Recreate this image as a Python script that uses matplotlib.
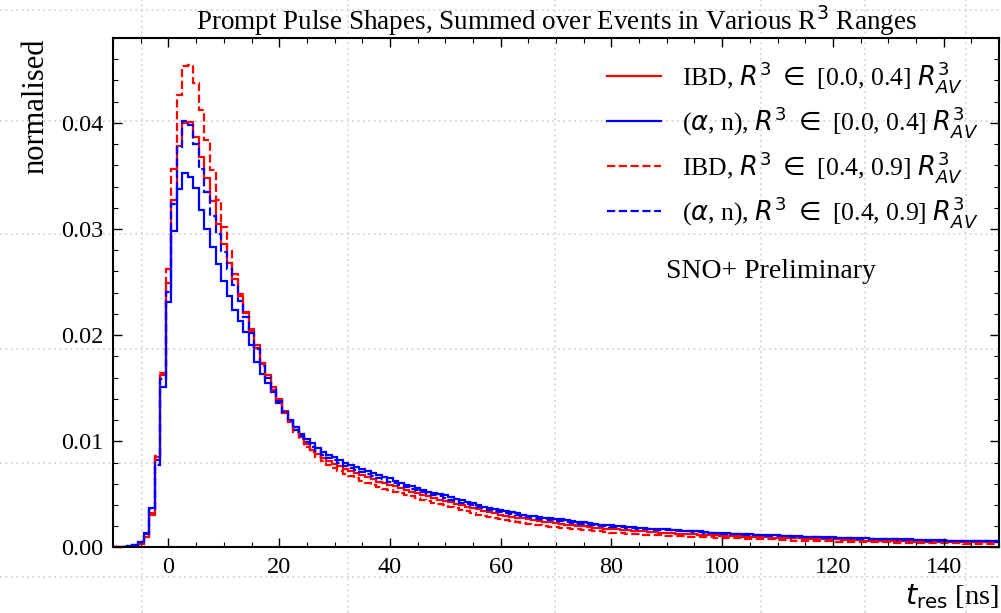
import numpy as np
import matplotlib.pyplot as plt
from matplotlib.lines import Line2D
from matplotlib.ticker import MultipleLocator, FormatStrFormatter

plt.rcParams['font.family'] = ['Liberation Serif', 'DejaVu Serif']
plt.rcParams['mathtext.fontset'] = 'dejavusans'

# bin centres in ns (1 ns bins), values in units of 1e-4 (normalised)
t_res = np.arange(-10, 151)

ibd_inner = [
    0.1, 0.2, 0.3, 0.5, 1.0, 3.0, 10, 32, 85, 162,
    249, 327, 378, 400, 401, 387, 368, 348, 326, 305,
    286, 268, 253, 237, 222, 206, 191, 174, 162, 151,
    140, 129, 119, 111, 104, 97, 92, 88, 84, 81,
    79, 76.5, 74, 72, 70, 68, 66, 64, 62, 60.5,
    59, 57.5, 56, 54, 52.5, 51, 49.5, 48, 46.5, 45,
    44, 42.5, 41, 39.5, 38, 37, 36, 34.5, 33, 32,
    31, 30, 29, 28, 27.5, 26.5, 25.5, 25, 24, 23.5,
    23, 22.5, 21.5, 21, 20.5, 20, 19.5, 18.5, 18, 17.5,
    17, 17, 16.5, 16, 15.5, 15.5, 15, 14.5, 14.5, 14,
    14, 13.5, 13, 13, 12.5, 12.5, 12, 12, 11.5, 11.5,
    11, 11, 10.5, 10.5, 10, 10, 10, 9.5, 9.5, 9,
    9, 9, 8.5, 8.5, 8.5, 8, 8, 8, 7.5, 7.5,
    7.5, 7.5, 7, 7, 7, 7, 6.5, 6.5, 6.5, 6.5,
    6, 6, 6, 6, 6, 5.5, 5.5, 5.5, 5.5, 5.5,
    5.5, 5.5, 5, 5, 5, 5, 5, 5, 5, 5,
    5,
]

an_inner = [
    0.2, 0.3, 0.5, 1.0, 2.0, 5.0, 14, 37, 82, 151,
    231, 298, 338, 353, 349, 339, 318, 300, 283, 267,
    251, 237, 224, 213, 203, 191, 175, 163, 155, 146,
    136, 128, 120, 113, 107, 102, 98, 94, 90, 87,
    85, 82, 80, 78, 76, 74, 72, 70, 68, 66.5,
    65, 63, 61, 59, 57.5, 56, 54, 52.5, 51, 50,
    49, 47.5, 46, 44.5, 43, 41.5, 40, 38.5, 37, 36,
    35, 34, 33, 32, 31, 30, 29.5, 28.5, 28, 27.5,
    27, 26.5, 25.5, 25, 24, 23.5, 23, 22, 21.5, 21,
    21, 20.5, 20, 19.5, 19, 18.5, 18, 17.5, 17.5, 17,
    17, 16.5, 16, 15.5, 15.5, 15, 15, 14.5, 14, 14,
    14, 13.5, 13, 13, 12.5, 12.5, 12, 12, 11.5, 11.5,
    11.5, 11, 11, 10.5, 10.5, 10, 10, 10, 9.5, 9.5,
    9.5, 9, 9, 9, 8.5, 8.5, 8.5, 8, 8, 8,
    8, 7.5, 7.5, 7.5, 7.5, 7, 7, 7, 7, 7,
    7, 6.5, 6.5, 6.5, 6.5, 6.5, 6.5, 6, 6, 6,
    6,
]

ibd_outer = [
    0.1, 0.2, 0.3, 0.5, 1.0, 3.0, 10, 31, 86, 164,
    262, 357, 426, 454, 455, 438, 412, 384, 356, 327,
    302, 279, 258, 239, 221, 204, 188, 173, 160, 148,
    137, 127, 118, 109, 102, 95, 90, 85.5, 81.5, 78,
    75, 72, 69.5, 67, 65, 63, 61, 59, 57, 55.5,
    54, 52.5, 51, 49.5, 48, 46.5, 45, 43.5, 42, 41,
    40, 38.5, 37, 35.5, 34, 32.5, 31, 30, 28.5, 27.5,
    26.5, 25.5, 25, 24, 23, 22.5, 21.5, 21, 20, 19.5,
    19, 18.5, 18, 17.5, 17, 16.5, 16, 15.5, 15, 14.5,
    14, 13.5, 13.5, 13, 12.5, 12.5, 12, 12, 11.5, 11.5,
    11, 11, 10.5, 10.5, 10, 10, 10, 9.5, 9.5, 9,
    9, 9, 8.5, 8.5, 8, 8, 8, 7.5, 7.5, 7.5,
    7, 7, 7, 6.5, 6.5, 6.5, 6.5, 6, 6, 6,
    6, 5.5, 5.5, 5.5, 5.5, 5.5, 5, 5, 5, 5,
    5, 4.5, 4.5, 4.5, 4.5, 4.5, 4.5, 4, 4, 4,
    4, 4, 4, 4, 3.5, 3.5, 3.5, 3.5, 3.5, 3.5,
    3.5,
]

an_outer = [
    0.2, 0.3, 0.5, 1.0, 2.0, 5.0, 13, 36, 78, 159,
    241, 324, 377, 402, 398, 380, 357, 335, 312, 295,
    278, 262, 247, 232, 217, 202, 187, 171, 160, 149,
    138, 128, 119, 111, 105, 99, 95, 91, 87, 84.5,
    82, 79.5, 77, 75, 73, 71, 69, 67, 65.5, 64,
    62, 60.5, 59, 57, 55.5, 54, 52.5, 51, 49.5, 48,
    46.5, 45, 43.5, 42, 40.5, 39.5, 38, 37, 35.5, 34.5,
    33.5, 32.5, 31.5, 30.5, 29.5, 28.5, 28, 27, 26.5, 26,
    25, 24.5, 24, 23, 22.5, 22, 21.5, 21, 20.5, 20,
    19.5, 19, 19, 18.5, 18, 17.5, 17.5, 17, 16.5, 16.5,
    16, 16, 15.5, 15, 15, 14.5, 14.5, 14, 14, 13.5,
    13, 13, 12.5, 12.5, 12, 12, 11.5, 11.5, 11, 11,
    11, 10.5, 10.5, 10, 10, 10, 9.5, 9.5, 9, 9,
    9, 8.5, 8.5, 8.5, 8, 8, 8, 8, 7.5, 7.5,
    7.5, 7.5, 7, 7, 7, 7, 7, 6.5, 6.5, 6.5,
    6.5, 6.5, 6.5, 6, 6, 6, 6, 6, 6, 6,
    5.5,
]

labels = [
    r'IBD, $R^3$ $\in$ [0.0, 0.4] $R^3_{AV}$',
    r'($\alpha$, n), $R^3$ $\in$ [0.0, 0.4] $R^3_{AV}$',
    r'IBD, $R^3$ $\in$ [0.4, 0.9] $R^3_{AV}$',
    r'($\alpha$, n), $R^3$ $\in$ [0.4, 0.9] $R^3_{AV}$',
]

fig = plt.figure(figsize=(10.01, 6.13), dpi=100)

# dotted background grid behind the (transparent) axes
grid_x = [0.142, 0.348, 0.554, 0.760, 0.864, 0.965]
grid_y = [0.983, 0.803, 0.619, 0.431, 0.245, 0.059]
for gx in grid_x:
    fig.add_artist(Line2D([gx, gx], [0, 1], transform=fig.transFigure, color='#d5d5d5',
                          lw=1.3, ls=(0, (1, 2)), zorder=-5))
for gy in grid_y:
    fig.add_artist(Line2D([0, 1], [gy, gy], transform=fig.transFigure, color='#d5d5d5',
                          lw=1.3, ls=(0, (1, 2)), zorder=-5))

ax = fig.add_axes([0.113, 0.107, 0.885, 0.831])
ax.set_facecolor('none')

edges = np.append(t_res - 0.5, t_res[-1] + 0.5)
series = [ibd_inner, an_inner, ibd_outer, an_outer]
colors = ['red', 'blue', 'red', 'blue']
styles = ['-', '-', '--', '--']
for vals, c, s, lab in zip(series, colors, styles, labels):
    ax.stairs(np.array(vals) * 1e-4, edges, color=c, ls=s, lw=1.6, label=lab)

ax.set_xlim(-10, 150)
ax.set_ylim(0, 0.048)
ax.xaxis.set_major_locator(MultipleLocator(20))
ax.xaxis.set_minor_locator(MultipleLocator(5))
ax.yaxis.set_major_locator(MultipleLocator(0.01))
ax.yaxis.set_minor_locator(MultipleLocator(0.002))
ax.yaxis.set_major_formatter(FormatStrFormatter('%.2f'))
ax.tick_params(which='both', direction='in', top=True, right=True, labelsize=17.5)
ax.tick_params(which='major', length=6.5, width=1.0, pad=7)
ax.tick_params(which='minor', length=3.5, width=0.8)
for sp in ax.spines.values():
    sp.set_linewidth(1.5)

ax.set_title(r'Prompt Pulse Shapes, Summed over Events in Various R$^3$ Ranges', fontsize=19.5, pad=5)
ax.set_xlabel(r'$t_{\rm res}$ [ns]', loc='right', fontsize=20.5, labelpad=3)
ax.set_ylabel('normalised', loc='top', fontsize=22, labelpad=8)

ax.legend(loc='upper right', frameon=False, fontsize=18.5, handlelength=2.1,
          handletextpad=0.8, labelspacing=0.35, borderaxespad=0.4)
ax.text(0.742, 0.541, 'SNO+ Preliminary', transform=ax.transAxes, ha='center', va='center', fontsize=20)

fig.savefig('out.png', dpi=100)
